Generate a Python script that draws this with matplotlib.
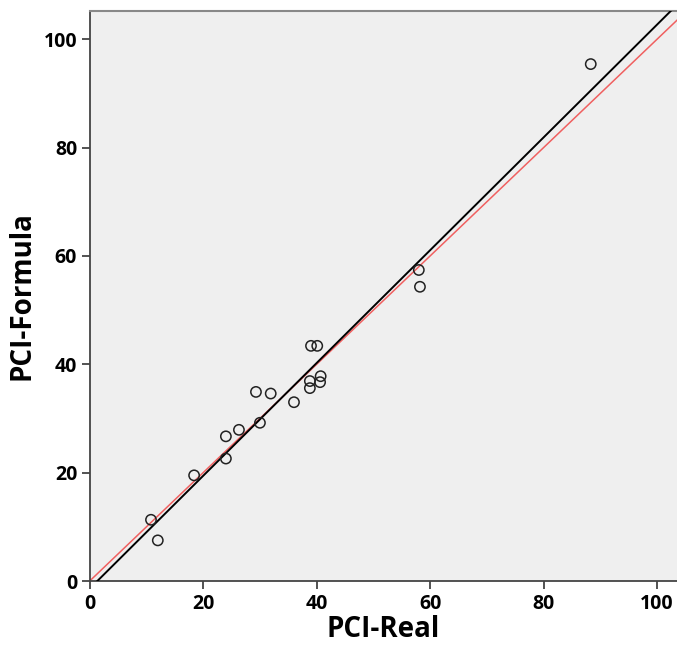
import matplotlib
matplotlib.use("Agg")
import matplotlib.pyplot as plt
import numpy as np

pci_real = [88.3, 58.0, 58.2, 39.0, 40.1, 40.7, 40.6, 38.8, 38.8, 29.3, 31.9,
            36.0, 30.0, 26.3, 24.0, 24.0, 18.4, 10.8, 12.0]
pci_formula = [95.4, 57.4, 54.3, 43.4, 43.4, 37.8, 36.7, 36.9, 35.6, 34.9, 34.6,
               33.0, 29.2, 27.9, 26.7, 22.6, 19.5, 11.3, 7.5]
fit_intercept = -1.4
fit_slope = 1.041
ticks = [0, 20, 40, 60, 80, 100]

plt.rcParams['font.family'] = ['Open Sans', 'DejaVu Sans']

fig = plt.figure(figsize=(6.77, 6.46), dpi=100)
ax = fig.add_axes([0.1325, 0.1006, 0.8675, 0.8824])
ax.set_facecolor('#efefef')

xmin, xmax = 0, 103.5
ymin, ymax = 0, 105.2
xs = np.array([-5, 110])
ax.plot(xs, xs, color='#f06060', lw=1.1, zorder=2)
ax.plot(xs, fit_intercept + fit_slope * xs, color='black', lw=1.4, zorder=3)
ax.scatter(pci_real, pci_formula, s=55, facecolors='none', edgecolors='#222222',
           linewidths=1.1, zorder=4)

ax.set_xlim(xmin, xmax)
ax.set_ylim(ymin, ymax)
ax.set_xticks(ticks)
ax.set_yticks(ticks)
ax.tick_params(direction='out', length=6, width=1.3, color='#444444',
               labelsize=14, pad=3, top=False, right=False)
for lab in ax.get_xticklabels() + ax.get_yticklabels():
    lab.set_fontweight('bold')
ax.spines['right'].set_visible(False)
ax.spines['top'].set_color('#888888')
ax.spines['top'].set_linewidth(1.5)
ax.spines['left'].set_color('#444444')
ax.spines['bottom'].set_color('#444444')
ax.spines['left'].set_linewidth(1.3)
ax.spines['bottom'].set_linewidth(1.3)

ax.set_xlabel('PCI-Real', fontsize=20, fontweight='bold', labelpad=1)
ax.set_ylabel('PCI-Formula', fontsize=20, fontweight='bold', labelpad=5)

fig.savefig('out.png', dpi=100)
